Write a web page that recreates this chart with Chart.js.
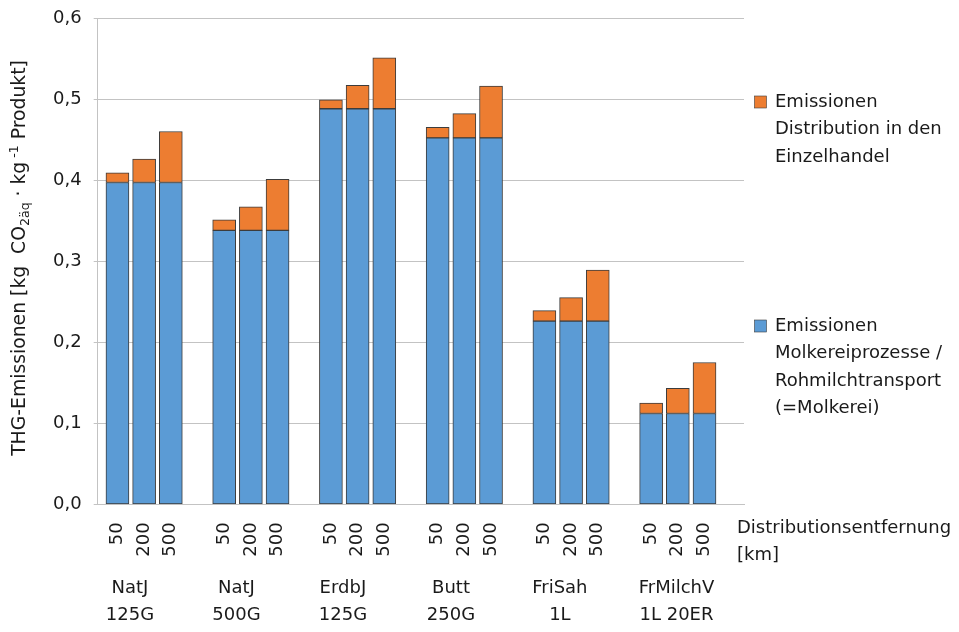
<!DOCTYPE html>
<html lang="de">
<head>
<meta charset="utf-8">
<title>THG-Emissionen Distribution</title>
<script src="https://cdn.jsdelivr.net/npm/chart.js@4"></script>
<style>
  html, body { margin: 0; padding: 0; background: #fff; }
  #wrap { width: 959px; height: 632px; }
</style>
</head>
<body>
<div id="wrap"><canvas id="thgChart" width="959" height="632"></canvas></div>
<script>
// Produkte (zweizeilige Beschriftung) und Distributionsentfernungen in km
var products = [['NatJ', '125G'], ['NatJ', '500G'], ['ErdbJ', '125G'], ['Butt', '250G'], ['FriSah', '1L'], ['FrMilchV', '1L 20ER']];
var distances = ['50', '200', '500'];

// kg CO2-Aeq. je kg Produkt, pro Produkt jeweils 50 / 200 / 500 km
var molkerei = [
  0.397, 0.397, 0.397,
  0.338, 0.338, 0.338,
  0.488, 0.488, 0.488,
  0.452, 0.452, 0.452,
  0.226, 0.226, 0.226,
  0.112, 0.112, 0.112
];
var distribution = [
  0.012, 0.029, 0.063,
  0.013, 0.029, 0.063,
  0.011, 0.029, 0.063,
  0.013, 0.030, 0.064,
  0.013, 0.029, 0.063,
  0.013, 0.031, 0.063
];

var nameDistribution = ['Emissionen', 'Distribution in den', 'Einzelhandel'];
var nameMolkerei = ['Emissionen', 'Molkereiprozesse /', 'Rohmilchtransport', '(=Molkerei)'];
var xTitle = ['Distributionsentfernung', '[km]'];

var BLUE = '#5b9bd5';
var ORANGE = '#ed7d31';
var EDGE = '#3c3c3c';
var GRID = '#c3c3c3';
var TEXT = '#1a1a1a';
var FONT = 'DejaVu Sans';

// jede Gruppe belegt 4 Plaetze auf der x-Achse (3 Balken + Luecke)
var barSlots = [];
products.forEach(function (p, g) {
  distances.forEach(function (d, i) { barSlots.push(g * 4 + i); });
});
// Produktnamen sitzen etwas rechts vom ersten Balken, der lange letzte weiter
var labelShift = [0.47, 0.46, 0.45, 0.5, 0.58, 0.95];
var groupSlots = products.map(function (p, g) { return g * 4 + labelShift[g]; });

function toPoints(values) {
  return values.map(function (v, i) { return { x: barSlots[i], y: v }; });
}

Chart.defaults.font.family = FONT;
Chart.defaults.font.size = 18;
Chart.defaults.color = TEXT;

// Achsentitel mit Index/Exponent, Entfernungs-Titel und Legende rechts
var extras = {
  id: 'thgExtras',
  afterDraw: function (chart) {
    var ctx = chart.ctx;
    var area = chart.chartArea;
    ctx.save();
    ctx.fillStyle = TEXT;

    // y-Achsentitel
    var parts = [
      { t: 'THG-Emissionen [kg  CO', size: 18.8, dy: 0 },
      { t: '2äq', size: 12.5, dy: 4 },
      { t: ' · kg', size: 18.8, dy: 0 },
      { t: ' -1', size: 12.5, dy: -7 },
      { t: ' Produkt]', size: 18.8, dy: 0 }
    ];
    var total = 0;
    parts.forEach(function (p) {
      ctx.font = p.size + 'px "' + FONT + '"';
      p.w = ctx.measureText(p.t).width;
      total += p.w;
    });
    ctx.save();
    ctx.translate(25, 258);
    ctx.rotate(-Math.PI / 2);
    ctx.textBaseline = 'alphabetic';
    ctx.textAlign = 'left';
    var x = -total / 2;
    parts.forEach(function (p) {
      ctx.font = p.size + 'px "' + FONT + '"';
      ctx.fillText(p.t, x, p.dy);
      x += p.w;
    });
    ctx.restore();

    // Titel der x-Achse rechts neben den Entfernungen
    ctx.font = '18px "' + FONT + '"';
    ctx.textAlign = 'left';
    ctx.textBaseline = 'alphabetic';
    xTitle.forEach(function (line, i) {
      ctx.fillText(line, area.right - 7, area.bottom + 29 + i * 27);
    });

    // Legende
    function legendItem(color, lines, boxTop) {
      ctx.fillStyle = color;
      ctx.fillRect(754.5, boxTop, 12, 12);
      ctx.strokeStyle = EDGE;
      ctx.lineWidth = 0.6;
      ctx.strokeRect(754.5, boxTop, 12, 12);
      ctx.fillStyle = TEXT;
      lines.forEach(function (line, i) {
        ctx.fillText(line, 775, boxTop + 11 + i * 27.3);
      });
    }
    legendItem(ORANGE, nameDistribution, 96);
    legendItem(BLUE, nameMolkerei, 320);

    ctx.restore();
  }
};

new Chart(document.getElementById('thgChart'), {
  type: 'bar',
  data: {
    datasets: [
      {
        label: nameMolkerei.join(' '),
        data: toPoints(molkerei),
        backgroundColor: BLUE,
        borderColor: EDGE,
        borderWidth: 1,
        borderSkipped: false,
        barThickness: 23
      },
      {
        label: nameDistribution.join(' '),
        data: toPoints(distribution),
        backgroundColor: ORANGE,
        borderColor: EDGE,
        borderWidth: 1,
        borderSkipped: false,
        barThickness: 23
      }
    ]
  },
  options: {
    responsive: false,
    animation: false,
    layout: { padding: { left: 0, right: 215, top: 18, bottom: 0 } },
    plugins: {
      legend: { display: false },
      tooltip: { enabled: false }
    },
    scales: {
      x: {
        type: 'linear',
        stacked: true,
        bounds: 'data',
        min: -0.74,
        max: 23.48,
        offset: false,
        weight: 0,
        grid: { display: false, offset: false },
        border: { display: true, color: GRID, width: 1 },
        afterBuildTicks: function (scale) {
          scale.ticks = barSlots.map(function (v) { return { value: v }; });
        },
        afterFit: function (scale) { scale.height = 60; },
        ticks: {
          autoSkip: false,
          minRotation: 90,
          maxRotation: 90,
          padding: 10,
          callback: function (value) { return distances[Math.round(value) % 4]; }
        }
      },
      x2: {
        type: 'linear',
        position: 'bottom',
        bounds: 'data',
        min: -0.74,
        max: 23.48,
        offset: false,
        weight: 1,
        grid: { display: false },
        border: { display: false },
        afterBuildTicks: function (scale) {
          scale.ticks = groupSlots.map(function (v) { return { value: v }; });
        },
        afterFit: function (scale) { scale.height = 67.7; },
        ticks: {
          autoSkip: false,
          minRotation: 0,
          maxRotation: 0,
          padding: 3,
          font: { lineHeight: 1.5 },
          callback: function (value, index) { return products[index]; }
        }
      },
      y: {
        stacked: true,
        min: 0,
        max: 0.6,
        grid: { color: GRID, tickLength: 4 },
        border: { color: GRID },
        afterFit: function (scale) {
          scale.width = 97.7;
          // obere Kante nur ueber layout.padding steuern
          scale.paddingTop = 0;
        },
        ticks: {
          stepSize: 0.1,
          padding: 12,
          callback: function (value) { return value.toFixed(1).replace('.', ','); }
        }
      }
    }
  },
  plugins: [extras]
});
</script>
</body>
</html>
